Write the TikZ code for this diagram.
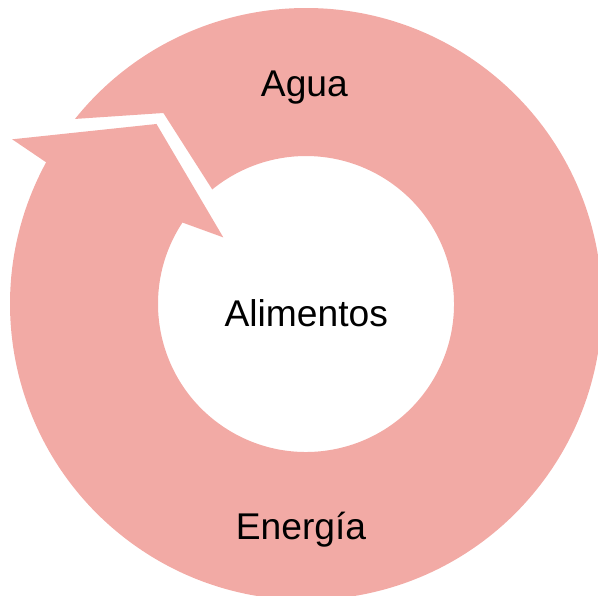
\documentclass[tikz,border=0pt]{standalone}
\usepackage{fontspec}
\setmainfont{Liberation Sans}
\usetikzlibrary{calc}
\definecolor{ringpink}{HTML}{F2AAA5}
\tikzset{
  ring/.style={fill=ringpink},
  lbl/.style={font=\fontsize{18.6}{22}\selectfont,anchor=base,inner sep=0pt}
}
\begin{document}
\begin{tikzpicture}[x=0.5pt,y=0.5pt]
\clip (0,0) rectangle (598,595);
\coordinate (O) at (306,291);
% tail end (notch)
\coordinate (T1) at ($(O)+(141.3:296)$);
\coordinate (N) at (163.4,482);
% arrow head
\coordinate (H1) at (12.2,455.7);
\coordinate (H2) at (156.5,471);
\coordinate (H3) at (223.3,357.6);
\coordinate (S2) at ($(O)+(146.6:148)$);
\fill[ring] (T1) arc[start angle=141.3,end angle=-208.6,radius=296]
  -- (H1) -- (H2) -- (H3) -- (S2)
  arc[start angle=-213.4,end angle=129.3,radius=148] -- (N) -- cycle;
\node[lbl] (agua) at (304.4,498.4) {Agua};
\node[lbl] (alimentos) at (306.3,269) {Alimentos};
\node[lbl] (energia) at (301,55.7) {Energía};
\end{tikzpicture}
\end{document}
